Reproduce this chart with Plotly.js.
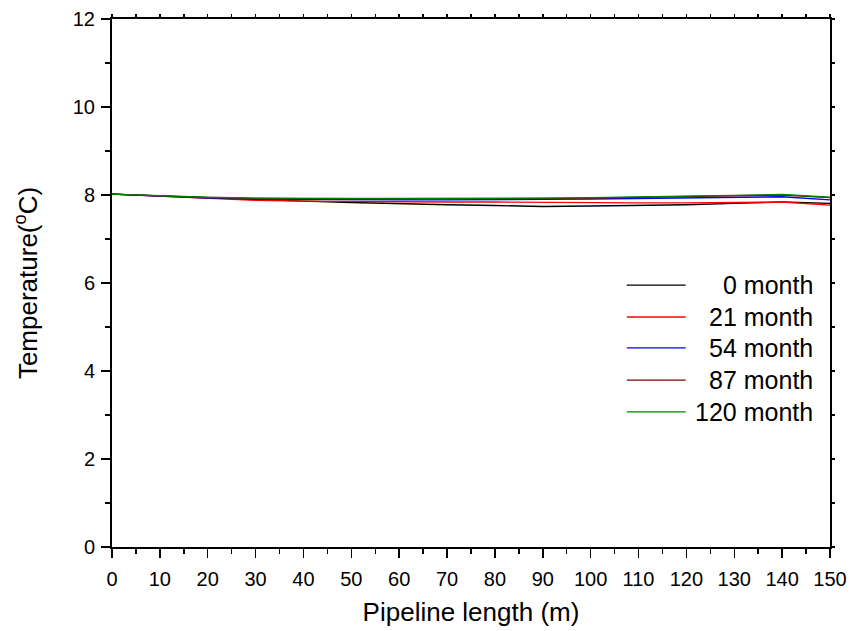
<!DOCTYPE html>
<html>
<head>
<meta charset="utf-8">
<script src="https://cdn.plot.ly/plotly-3.0.1.min.js"></script>
<style>
  html, body { margin: 0; padding: 0; background: #fff; }
  #chart { width: 851px; height: 631px; }
</style>
</head>
<body>
<div id="chart"></div>
<script>
// Pipeline positions (m)
const pipelineLength = [0, 10, 20, 30, 40, 50, 60, 70, 80, 90, 100, 110, 120, 130, 140, 150];

// Water temperature along the pipeline (°C) after each operating period
const temp0   = [8.02, 7.98, 7.93, 7.89, 7.86, 7.83, 7.80, 7.78, 7.76, 7.74, 7.75, 7.76, 7.78, 7.81, 7.84, 7.81];
const temp21  = [8.02, 7.97, 7.92, 7.88, 7.86, 7.85, 7.84, 7.84, 7.84, 7.83, 7.83, 7.82, 7.82, 7.83, 7.84, 7.77];
const temp54  = [8.02, 7.97, 7.93, 7.91, 7.90, 7.89, 7.89, 7.89, 7.89, 7.90, 7.91, 7.92, 7.93, 7.95, 7.96, 7.89];
const temp87  = [8.02, 7.98, 7.94, 7.92, 7.91, 7.91, 7.91, 7.91, 7.92, 7.92, 7.93, 7.95, 7.96, 7.98, 8.00, 7.94];
const temp120 = [8.02, 7.98, 7.95, 7.93, 7.92, 7.92, 7.92, 7.92, 7.93, 7.93, 7.94, 7.96, 7.97, 7.99, 8.01, 7.95];

const seriesNames  = ['0 month', '21 month', '54 month', '87 month', '120 month'];
const seriesData   = [temp0, temp21, temp54, temp87, temp120];
const seriesColors = ['#000000', '#ff0000', '#0000ff', '#800000', '#008000'];

const xTicks = [0, 10, 20, 30, 40, 50, 60, 70, 80, 90, 100, 110, 120, 130, 140, 150];
const yTicks = [0, 2, 4, 6, 8, 10, 12];

const traces = seriesData.map((y, i) => ({
  x: pipelineLength,
  y: y,
  type: 'scatter',
  mode: 'lines',
  name: seriesNames[i],
  line: { color: seriesColors[i], width: 1.4 }
}));

const fam = 'Arial, "Liberation Sans", sans-serif';

// key: short line sample followed by right-aligned label, one row per series
const keyRows = [0.496, 0.4356, 0.377, 0.316, 0.256];
const shapes = seriesNames.map((_, i) => ({
  type: 'line', xref: 'paper', yref: 'paper',
  x0: 0.717, x1: 0.799, y0: keyRows[i], y1: keyRows[i],
  line: { color: seriesColors[i], width: 1.3 }
}));
const annotations = seriesNames.map((n, i) => ({
  text: n, xref: 'paper', yref: 'paper',
  x: 0.979, y: keyRows[i], xanchor: 'right', yanchor: 'middle',
  showarrow: false, font: { family: fam, size: 25, color: '#000' }
}));

const layout = {
  width: 851,
  height: 631,
  margin: { l: 112, r: 21, t: 19, b: 84 },
  paper_bgcolor: '#fff',
  plot_bgcolor: '#fff',
  font: { family: fam, color: '#000' },
  showlegend: false,
  shapes: shapes,
  annotations: annotations,
  xaxis: {
    range: [0, 150],
    tickvals: xTicks,
    ticks: 'outside', ticklen: 9, tickwidth: 1.5, tickcolor: '#000',
    minor: { dtick: 5, ticks: 'outside', ticklen: 5, tickwidth: 1.5, tickcolor: '#000' },
    showline: true, linecolor: '#000', linewidth: 2,
    showgrid: false, zeroline: false,
    ticklabelstandoff: 4,
    tickfont: { family: fam, size: 20, color: '#000' },
    title: { text: 'Pipeline length (m)', font: { family: fam, size: 26, color: '#000' }, standoff: 14 }
  },
  yaxis: {
    range: [0, 12],
    tickvals: yTicks,
    ticks: 'outside', ticklen: 9, tickwidth: 1.5, tickcolor: '#000',
    minor: { dtick: 1, ticks: 'outside', ticklen: 5, tickwidth: 1.5, tickcolor: '#000' },
    showline: true, linecolor: '#000', linewidth: 2,
    showgrid: false, zeroline: false,
    ticklabelstandoff: 2,
    tickfont: { family: fam, size: 20, color: '#000' },
    title: { text: 'Temperature(<sup>o</sup>C)', font: { family: fam, size: 26, color: '#000' }, standoff: 28 }
  },
  // frame axes on top and right with short outward ticks
  xaxis2: {
    overlaying: 'x', side: 'top', matches: 'x', range: [0, 150],
    tickvals: xTicks, ticks: 'outside', ticklen: 3, tickwidth: 1.5, tickcolor: '#000',
    minor: { dtick: 5, ticks: 'outside', ticklen: 3, tickwidth: 1.5, tickcolor: '#000' },
    showticklabels: false, showline: true, linecolor: '#000', linewidth: 2,
    showgrid: false, zeroline: false
  },
  yaxis2: {
    overlaying: 'y', side: 'right', range: [0, 12],
    tickvals: yTicks, ticks: 'outside', ticklen: 3, tickwidth: 1.5, tickcolor: '#000',
    minor: { dtick: 1, ticks: 'outside', ticklen: 3, tickwidth: 1.5, tickcolor: '#000' },
    showticklabels: false, showline: true, linecolor: '#000', linewidth: 2,
    showgrid: false, zeroline: false
  }
};

// invisible trace that anchors the top/right frame axes
traces.push({
  x: [0, 150], y: [0, 12], xaxis: 'x2', yaxis: 'y2',
  type: 'scatter', mode: 'lines', line: { width: 0 },
  hoverinfo: 'skip', showlegend: false, opacity: 0
});

Plotly.newPlot('chart', traces, layout, { displayModeBar: false, staticPlot: true });
</script>
</body>
</html>
